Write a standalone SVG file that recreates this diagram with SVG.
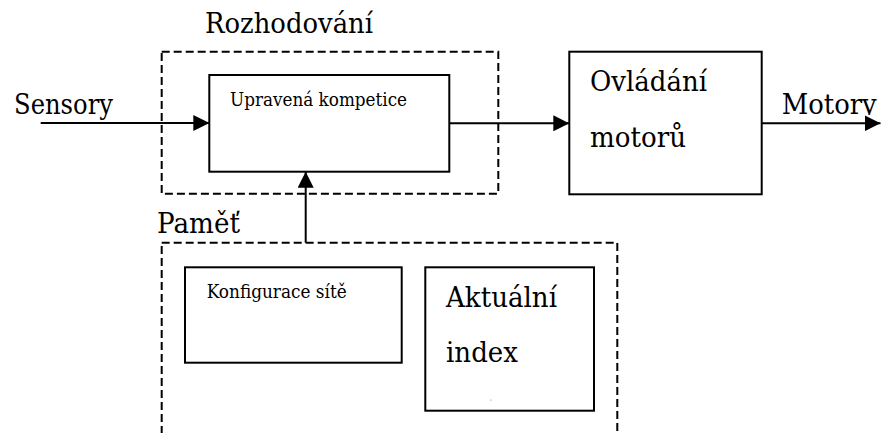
<svg xmlns="http://www.w3.org/2000/svg" width="882" height="433" viewBox="0 0 882 433">
<style>
text{fill:#000;font-family:"DejaVu Serif","Liberation Serif",serif}
.big{font-size:27px}
.small{font-size:18px}
.box{fill:#fff;stroke:#000;stroke-width:2}
.dash{fill:none;stroke:#000;stroke-width:2;stroke-dasharray:8 4}
.conn{fill:none;stroke:#000;stroke-width:2}
</style>
<defs>
<marker id="arr" markerWidth="16" markerHeight="16" refX="16" refY="8" orient="auto" markerUnits="userSpaceOnUse">
<path d="M0,0 L16,8 L0,16 Z" fill="#000"/>
</marker>
<clipPath id="motClip"><rect x="770" y="80" width="112" height="35"/></clipPath>
</defs>
<rect width="882" height="433" fill="#fff"/>
<g id="rozhodovani">
<rect class="dash" x="161.7" y="51.7" width="336.6" height="142"/>
<text class="big" x="205" y="33" textLength="168" lengthAdjust="spacingAndGlyphs">Rozhodování</text>
</g>
<g id="pamet">
<rect class="dash" x="161.7" y="242.7" width="455.6" height="210"/>
<text class="big" x="157" y="233" textLength="83" lengthAdjust="spacingAndGlyphs">Paměť</text>
</g>
<g id="upravena">
<rect class="box" x="209.3" y="75" width="240" height="96.7"/>
<text class="small" x="230" y="106" textLength="177" lengthAdjust="spacingAndGlyphs">Upravená kompetice</text>
</g>
<g id="ovladani">
<rect class="box" x="569.3" y="51.7" width="192.4" height="142.6"/>
<text class="big" x="590" y="91" textLength="117" lengthAdjust="spacingAndGlyphs">Ovládání</text>
<text class="big" x="590" y="146.7" textLength="96" lengthAdjust="spacingAndGlyphs">motorů</text>
</g>
<g id="konfigurace">
<rect class="box" x="185" y="267.3" width="216.7" height="95.4"/>
<text class="small" x="206.7" y="297.7" textLength="140" lengthAdjust="spacingAndGlyphs">Konfigurace sítě</text>
</g>
<g id="aktualni">
<rect class="box" x="425.3" y="267.3" width="168.7" height="143.4"/>
<text class="big" x="446" y="306.7" textLength="111" lengthAdjust="spacingAndGlyphs">Aktuální</text>
<text class="big" x="446" y="361.7" textLength="72" lengthAdjust="spacingAndGlyphs">index</text>
<rect x="490.3" y="399.6" width="1" height="1" fill="#888"/>
</g>
<g id="labels">
<text class="big" x="14" y="114" textLength="99" lengthAdjust="spacingAndGlyphs">Sensory</text>
<text class="big" x="781.7" y="114" clip-path="url(#motClip)" textLength="95" lengthAdjust="spacingAndGlyphs">Motory</text>
</g>
<g id="connectors">
<path class="conn" d="M40.7,123 H209.3" marker-end="url(#arr)"/>
<path class="conn" d="M449.3,123.3 H569.3" marker-end="url(#arr)"/>
<path class="conn" d="M761.7,123.3 H880.5" marker-end="url(#arr)"/>
<path class="conn" d="M305.7,242.7 V171.7" marker-end="url(#arr)"/>
</g>
</svg>
